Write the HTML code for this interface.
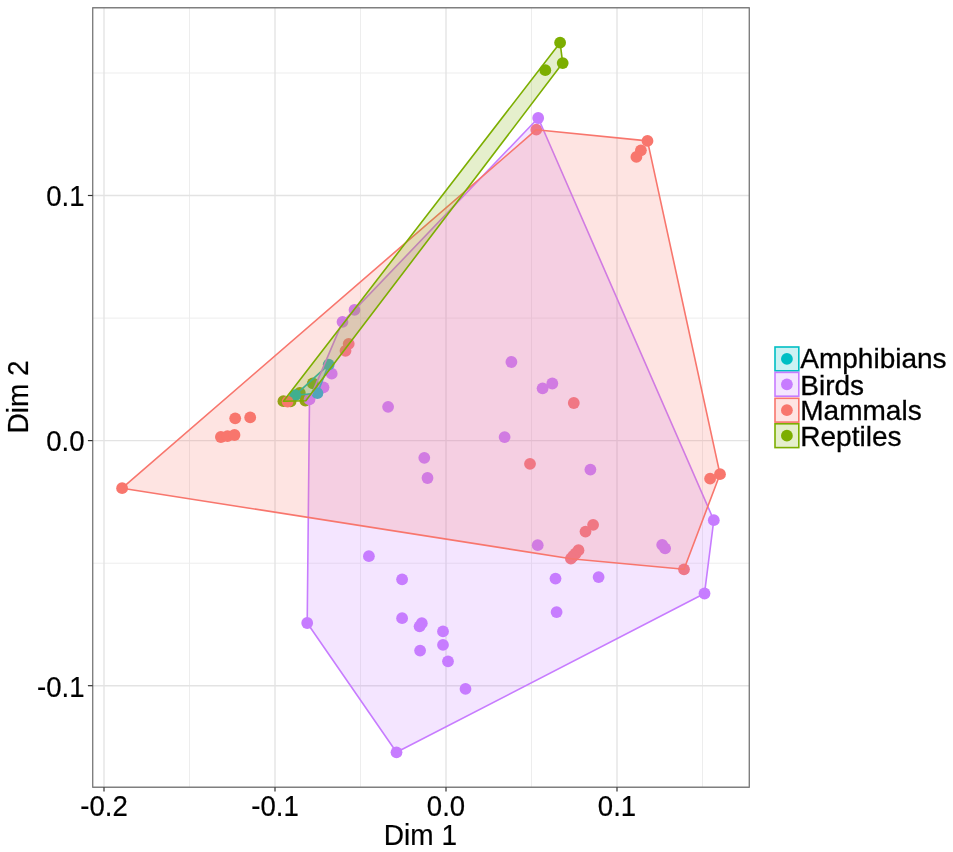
<!DOCTYPE html>
<html lang="en"><head><meta charset="utf-8"><title>Dim 1 vs Dim 2</title>
<style>html,body{margin:0;padding:0;background:#fff}svg{display:block}text{font-family:"Liberation Sans",Arial,Helvetica,sans-serif;font-size:28px;fill:#000;stroke:#000;stroke-width:0.2px}.lg{stroke-width:0.3px}</style></head><body>
<svg width="953" height="852" viewBox="0 0 953 852">
<rect x="0" y="0" width="953" height="852" fill="#fff"/>
<g stroke="#ededed" stroke-width="1" fill="none">
<line x1="189.5" y1="7.7" x2="189.5" y2="787.3"/>
<line x1="360.5" y1="7.7" x2="360.5" y2="787.3"/>
<line x1="531.5" y1="7.7" x2="531.5" y2="787.3"/>
<line x1="702.5" y1="7.7" x2="702.5" y2="787.3"/>
<line x1="92.7" y1="73.0" x2="749.3" y2="73.0"/>
<line x1="92.7" y1="318.1" x2="749.3" y2="318.1"/>
<line x1="92.7" y1="563.2" x2="749.3" y2="563.2"/>
</g><g stroke="#e3e3e3" stroke-width="1.35" fill="none">
<line x1="104.0" y1="7.7" x2="104.0" y2="787.3"/>
<line x1="275.0" y1="7.7" x2="275.0" y2="787.3"/>
<line x1="446.0" y1="7.7" x2="446.0" y2="787.3"/>
<line x1="617.0" y1="7.7" x2="617.0" y2="787.3"/>
<line x1="92.7" y1="195.5" x2="749.3" y2="195.5"/>
<line x1="92.7" y1="440.6" x2="749.3" y2="440.6"/>
<line x1="92.7" y1="685.7" x2="749.3" y2="685.7"/>
</g>
<g fill="#7CAE00">
<circle cx="560.1" cy="42.7" r="5.9"/>
<circle cx="562.7" cy="63.1" r="5.9"/>
<circle cx="545.3" cy="70.2" r="5.9"/>
<circle cx="283.4" cy="401.2" r="5.9"/>
<circle cx="290.6" cy="401.4" r="5.9"/>
<circle cx="305.3" cy="400.6" r="5.9"/>
<circle cx="299.8" cy="392.9" r="5.9"/>
<circle cx="312.8" cy="383.4" r="5.9"/>
</g>
<g fill="#C77CFF">
<circle cx="538.2" cy="118.0" r="5.9"/>
<circle cx="354.5" cy="309.9" r="5.9"/>
<circle cx="342.5" cy="321.9" r="5.9"/>
<circle cx="331.7" cy="373.7" r="5.9"/>
<circle cx="323.5" cy="387.3" r="5.9"/>
<circle cx="309.5" cy="399.4" r="5.9"/>
<circle cx="388.1" cy="406.8" r="5.9"/>
<circle cx="511.4" cy="362" r="5.9"/>
<circle cx="542.6" cy="388.3" r="5.9"/>
<circle cx="552.3" cy="383.5" r="5.9"/>
<circle cx="504.6" cy="437.1" r="5.9"/>
<circle cx="424.3" cy="457.8" r="5.9"/>
<circle cx="427.5" cy="478" r="5.9"/>
<circle cx="590.4" cy="469.6" r="5.9"/>
<circle cx="537.7" cy="545.2" r="5.9"/>
<circle cx="662.2" cy="544.8" r="5.9"/>
<circle cx="665.1" cy="548.3" r="5.9"/>
<circle cx="713.8" cy="520.2" r="5.9"/>
<circle cx="704.5" cy="593.5" r="5.9"/>
<circle cx="555.5" cy="578.6" r="5.9"/>
<circle cx="598.6" cy="577.1" r="5.9"/>
<circle cx="556.6" cy="612.1" r="5.9"/>
<circle cx="368.9" cy="556.2" r="5.9"/>
<circle cx="402.1" cy="579.3" r="5.9"/>
<circle cx="402.1" cy="618.2" r="5.9"/>
<circle cx="421.8" cy="623.2" r="5.9"/>
<circle cx="419.6" cy="626.3" r="5.9"/>
<circle cx="443" cy="631.4" r="5.9"/>
<circle cx="443" cy="644.9" r="5.9"/>
<circle cx="420.1" cy="650.6" r="5.9"/>
<circle cx="448" cy="661.3" r="5.9"/>
<circle cx="465.5" cy="688.9" r="5.9"/>
<circle cx="307.2" cy="623" r="5.9"/>
<circle cx="396.5" cy="752.3" r="5.9"/>
</g>
<g fill="#00BFC4">
<circle cx="295.2" cy="395.2" r="5.9"/>
<circle cx="317.4" cy="393.2" r="5.9"/>
<circle cx="328.7" cy="364.6" r="5.9"/>
</g>
<g fill="#F8766D">
<circle cx="536.3" cy="129.7" r="5.9"/>
<circle cx="647.5" cy="140.9" r="5.9"/>
<circle cx="640.9" cy="150.3" r="5.9"/>
<circle cx="636.4" cy="156.9" r="5.9"/>
<circle cx="720" cy="474.2" r="5.9"/>
<circle cx="710.1" cy="478.7" r="5.9"/>
<circle cx="684" cy="569.3" r="5.9"/>
<circle cx="122.1" cy="488.2" r="5.9"/>
<circle cx="235.2" cy="418.3" r="5.9"/>
<circle cx="250.2" cy="417.4" r="5.9"/>
<circle cx="220.9" cy="437" r="5.9"/>
<circle cx="227.5" cy="436.1" r="5.9"/>
<circle cx="234.5" cy="435" r="5.9"/>
<circle cx="348.7" cy="343.8" r="5.9"/>
<circle cx="345.5" cy="350.8" r="5.9"/>
<circle cx="287.6" cy="401.6" r="5.9"/>
<circle cx="573.8" cy="403" r="5.9"/>
<circle cx="530" cy="463.8" r="5.9"/>
<circle cx="593.1" cy="524.8" r="5.9"/>
<circle cx="585.5" cy="531.6" r="5.9"/>
<circle cx="578.5" cy="550.2" r="5.9"/>
<circle cx="575.7" cy="553.5" r="5.9"/>
<circle cx="573.2" cy="556" r="5.9"/>
<circle cx="570.9" cy="558.7" r="5.9"/>
</g>
<polygon points="295.2,395.2 328.7,364.6 317.4,393.2" fill="#00BFC4" fill-opacity="0.2" stroke="#00BFC4" stroke-width="1.6" stroke-linejoin="round"/>
<polygon points="307.2,623 309.5,399.4 342.5,321.9 354.5,309.9 538.2,118.0 713.8,520.2 704.5,593.5 396.5,752.3" fill="#C77CFF" fill-opacity="0.2" stroke="#C77CFF" stroke-width="1.6" stroke-linejoin="round"/>
<polygon points="122.1,488.2 536.3,129.7 647.5,140.9 720,474.2 684,569.3 570.9,558.7" fill="#F8766D" fill-opacity="0.2" stroke="#F8766D" stroke-width="1.6" stroke-linejoin="round"/>
<polygon points="283.4,401.2 560.1,42.7 562.7,63.1 305.8,400.8" fill="#7CAE00" fill-opacity="0.2" stroke="#7CAE00" stroke-width="1.6" stroke-linejoin="round"/>
<rect x="92.7" y="7.7" width="656.5999999999999" height="779.5999999999999" fill="none" stroke="#7f7f7f" stroke-width="1.4" stroke-linejoin="round"/>
<g stroke="#333" stroke-width="1.2">
<line x1="104.0" y1="787.3" x2="104.0" y2="791.5999999999999"/>
<line x1="275.0" y1="787.3" x2="275.0" y2="791.5999999999999"/>
<line x1="446.0" y1="787.3" x2="446.0" y2="791.5999999999999"/>
<line x1="617.0" y1="787.3" x2="617.0" y2="791.5999999999999"/>
<line x1="87.9" y1="195.5" x2="92.7" y2="195.5"/>
<line x1="87.9" y1="440.6" x2="92.7" y2="440.6"/>
<line x1="87.9" y1="685.7" x2="92.7" y2="685.7"/>
</g>
<text transform="translate(104.0,816.4) scale(0.985,1.035)" text-anchor="middle">-0.2</text>
<text transform="translate(275.0,816.4) scale(0.985,1.035)" text-anchor="middle">-0.1</text>
<text transform="translate(446.0,816.4) scale(0.985,1.035)" text-anchor="middle">0.0</text>
<text transform="translate(617.0,816.4) scale(0.985,1.035)" text-anchor="middle">0.1</text>
<text transform="translate(84.5,206.3) scale(0.985,1.035)" text-anchor="end">0.1</text>
<text transform="translate(84.5,451.4) scale(0.985,1.035)" text-anchor="end">0.0</text>
<text transform="translate(84.5,696.5) scale(0.985,1.035)" text-anchor="end">-0.1</text>
<text transform="translate(420.4,844.8) scale(1,1.06)" text-anchor="middle">Dim 1</text>
<text transform="translate(28.1,397) rotate(-90) scale(1,1.06)" text-anchor="middle">Dim 2</text>
<rect x="775" y="347.0" width="23.8" height="23.8" fill="#00BFC4" fill-opacity="0.2" stroke="#00BFC4" stroke-width="1.6"/>
<circle cx="786.9" cy="358.9" r="5.9" fill="#00BFC4"/>
<text class="lg" x="800.3" y="368.3">Amphibians</text>
<rect x="775" y="372.40000000000003" width="23.8" height="23.8" fill="#C77CFF" fill-opacity="0.2" stroke="#C77CFF" stroke-width="1.6"/>
<circle cx="786.9" cy="384.3" r="5.9" fill="#C77CFF"/>
<text class="lg" x="800.3" y="394.6">Birds</text>
<rect x="775" y="398.3" width="23.8" height="23.8" fill="#F8766D" fill-opacity="0.2" stroke="#F8766D" stroke-width="1.6"/>
<circle cx="786.9" cy="410.2" r="5.9" fill="#F8766D"/>
<text class="lg" x="800.3" y="419.8">Mammals</text>
<rect x="775" y="423.8" width="23.8" height="23.8" fill="#7CAE00" fill-opacity="0.2" stroke="#7CAE00" stroke-width="1.6"/>
<circle cx="786.9" cy="435.7" r="5.9" fill="#7CAE00"/>
<text class="lg" x="800.3" y="445.6">Reptiles</text>
</svg></body></html>
